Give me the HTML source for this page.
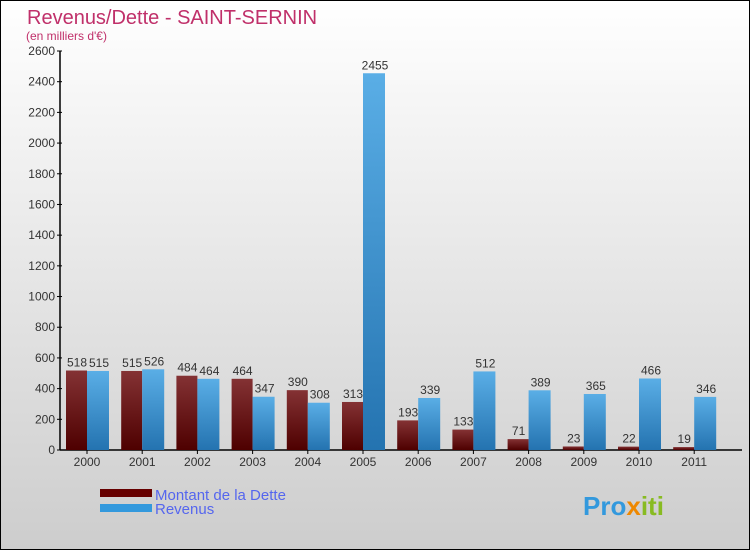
<!DOCTYPE html>
<html><head><meta charset="utf-8"><style>
body{margin:0}
#c{width:750px;height:550px;position:relative;box-sizing:border-box;border:1px solid #000;background:linear-gradient(#ffffff,#cdcdcd);font-family:"Liberation Sans",sans-serif;overflow:hidden}
</style></head><body>
<div id="c">
<svg id="s" width="750" height="550" style="position:absolute;left:-1px;top:-1px">
<defs>
<linearGradient id="gr" x1="0" y1="0" x2="0" y2="1"><stop offset="0" stop-color="#843234"/><stop offset="1" stop-color="#4e0000"/></linearGradient>
<linearGradient id="gb" x1="0" y1="0" x2="0" y2="1"><stop offset="0" stop-color="#5aaee6"/><stop offset="1" stop-color="#2473b0"/></linearGradient>
</defs>
<text x="27" y="24" font-size="20" fill="#c0306a">Revenus/Dette - SAINT-SERNIN</text>
<text x="26" y="40" font-size="12" fill="#c0306a">(en milliers d'€)</text>
<g id="axes"></g>
<g id="bars"></g>
<rect x="100" y="489" width="52" height="8" fill="#660000"/>
<rect x="100" y="504" width="52" height="8" fill="#3399dd"/>
<text x="155" y="500" font-size="15" fill="#5566ee">Montant de la Dette</text>
<text x="155" y="514" font-size="15" fill="#5566ee">Revenus</text>
<text x="583" y="515" font-size="26" font-weight="bold"><tspan fill="#3399dd">Pro</tspan><tspan fill="#ee8800">x</tspan><tspan fill="#88bb22">iti</tspan></text>
</svg>
</div>
<script>
const years=["2000","2001","2002","2003","2004","2005","2006","2007","2008","2009","2010","2011"];
const dette=[518,515,484,464,390,313,193,133,71,23,22,19];
const revenus=[515,526,464,347,308,2455,339,512,389,365,466,346];
const yTicks=[0,200,400,600,800,1000,1200,1400,1600,1800,2000,2200,2400,2600];
const NS="http://www.w3.org/2000/svg";
const y0=450,y1=51,vmax=2600;
const yS=v=>y0-(v/vmax)*(y0-y1);
const xC=i=>87+i*55.2;
function mk(t,a,p){const e=document.createElementNS(NS,t);for(const k in a)e.setAttribute(k,a[k]);p.appendChild(e);return e;}
const ax=document.getElementById('axes'),bg=document.getElementById('bars');
const yl=mk('line',{x1:60,y1:y1,x2:60,y2:y0,stroke:'#000','stroke-width':1.5},ax);


const xl=mk('line',{x1:60,y1:y0,x2:742,y2:y0,stroke:'#000','stroke-width':1.5},ax);


yTicks.forEach(v=>{
 mk('line',{x1:57,x2:62,y1:yS(v),y2:yS(v),stroke:'#000'},ax);
 const t=mk('text',{x:55,y:yS(v)+4,'text-anchor':'end','font-size':12,fill:'#333'},ax);
 t.textContent=v;
 
 
});
years.forEach((yr,i)=>{
 const c=xC(i);
 mk('line',{x1:c,x2:c,y1:y0,y2:y0+4,stroke:'#000'},ax);
 const t=mk('text',{x:c,y:466,'text-anchor':'middle','font-size':12,fill:'#333'},ax);
 t.textContent=yr;
 
 
 const r=mk('rect',{x:c-21,y:yS(dette[i]),width:21,height:y0-yS(dette[i]),fill:'url(#gr)'},bg);
 
 
 const b=mk('rect',{x:c,y:yS(revenus[i]),width:22,height:y0-yS(revenus[i]),fill:'url(#gb)'},bg);
 
 
 const l1=mk('text',{x:c-10,y:yS(dette[i])-4,'text-anchor':'middle','font-size':12,fill:'#333'},bg);
 l1.textContent=dette[i];
 
 
 const l2=mk('text',{x:c+12,y:yS(revenus[i])-4,'text-anchor':'middle','font-size':12,fill:'#333'},bg);
 l2.textContent=revenus[i];
 
 
});
</script>
</body></html>
